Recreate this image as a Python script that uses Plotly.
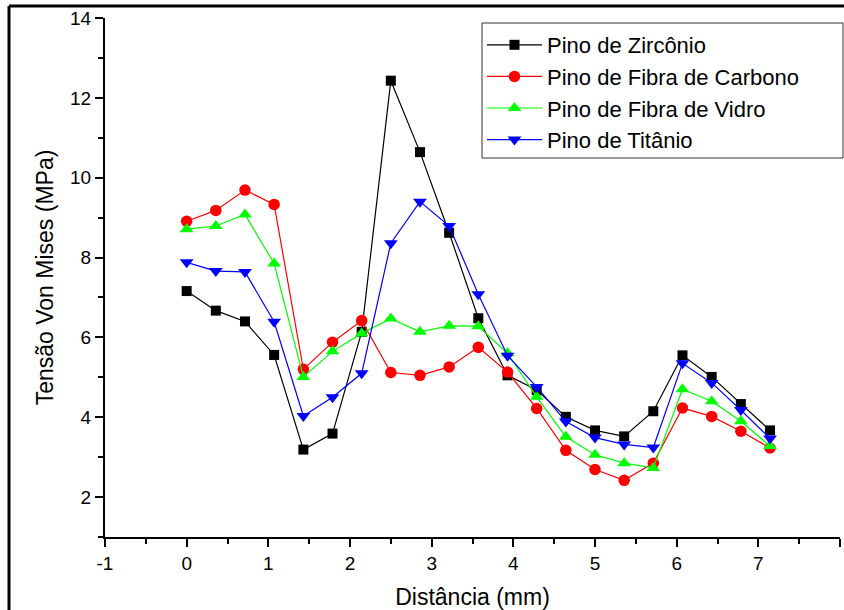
import plotly.graph_objects as go

distancia = [0, 0.357, 0.714, 1.071, 1.429, 1.786, 2.143, 2.5, 2.857, 3.214, 3.571,
             3.929, 4.286, 4.643, 5.0, 5.357, 5.714, 6.071, 6.429, 6.786, 7.143]

zirconio = [7.16, 6.67, 6.40, 5.56, 3.19, 3.59, 6.14, 12.43, 10.64, 8.62, 6.48,
            5.05, 4.68, 4.01, 3.67, 3.52, 4.15, 5.55, 5.01, 4.33, 3.67]
carbono = [8.91, 9.18, 9.69, 9.33, 5.20, 5.88, 6.42, 5.12, 5.05, 5.26, 5.75,
           5.13, 4.22, 3.17, 2.69, 2.42, 2.85, 4.23, 4.02, 3.65, 3.23]
vidro = [8.71, 8.79, 9.08, 7.85, 5.01, 5.65, 6.10, 6.47, 6.14, 6.29, 6.28,
         5.60, 4.51, 3.51, 3.06, 2.85, 2.73, 4.70, 4.40, 3.90, 3.28]
titanio = [7.88, 7.66, 7.64, 6.39, 4.03, 4.50, 5.10, 8.36, 9.40, 8.79, 7.08,
           5.54, 4.76, 3.89, 3.49, 3.32, 3.24, 5.35, 4.86, 4.18, 3.47]

x_tickvals = [-1, 0, 1, 2, 3, 4, 5, 6, 7, 8]
x_ticktext = ["-1", "0", "1", "2", "3", "4", "5", "6", "7", "8"]

series = [
    ("Pino de Zircônio", zirconio, "#000000", "square", 10),
    ("Pino de Fibra de Carbono", carbono, "#ff0000", "circle", 11.5),
    ("Pino de Fibra de Vidro", vidro, "#00ff00", "triangle-up", 12),
    ("Pino de Titânio", titanio, "#0000ff", "triangle-down", 12),
]

FONT = "Liberation Sans, Arial, sans-serif"

fig = go.Figure()
for name, vals, color, sym, size in series:
    fig.add_trace(go.Scatter(
        x=distancia, y=vals, name=name, mode="lines+markers",
        line=dict(color=color, width=1.2),
        marker=dict(symbol=sym, size=size, color=color),
    ))

W, H = 844, 610
ML, MR, MT, MB = 105, 4, 18, 73
pw, ph = W - ML - MR, H - MT - MB

def px(x):
    return (x - ML) / pw

def py(y):
    return 1 - (y - MT) / ph

fig.update_layout(
    width=W, height=H,
    margin=dict(l=ML, r=MR, t=MT, b=MB),
    paper_bgcolor="white", plot_bgcolor="white",
    font=dict(family=FONT, color="black"),
    showlegend=True,
    legend=dict(
        x=px(482), y=py(24), xanchor="left", yanchor="top",
        bgcolor="rgba(0,0,0,0)", borderwidth=0,
        font=dict(size=22, family=FONT), itemwidth=55,
        tracegroupgap=0,
    ),
    xaxis=dict(
        range=[-1, 8], tickmode="array", tickvals=x_tickvals, ticktext=x_ticktext,
        showgrid=False, zeroline=False,
        showline=True, linecolor="black", linewidth=2,
        ticks="outside", ticklen=8, tickwidth=2, tickcolor="black",
        tickfont=dict(size=19),
        minor=dict(ticks="outside", ticklen=5, tickwidth=2, tickcolor="black", dtick=0.5, tick0=0, showgrid=False),
        title=dict(text="Distância (mm)", font=dict(size=23), standoff=16),
    ),
    yaxis=dict(
        range=[1, 14], tick0=0, dtick=2, showgrid=False, zeroline=False,
        showline=True, linecolor="black", linewidth=2,
        ticks="outside", ticklen=8, tickwidth=2, tickcolor="black",
        tickfont=dict(size=19),
        minor=dict(ticks="outside", ticklen=5, tickwidth=2, tickcolor="black", dtick=1, showgrid=False),
        title=dict(text="Tensão Von Mises (MPa)", font=dict(size=23), standoff=10),
    ),
    shapes=[
        dict(type="rect", xref="paper", yref="paper", x0=px(482), x1=px(843), y0=py(23), y1=py(158),
             line=dict(color="#333333", width=1), fillcolor="white", layer="above"),
        dict(type="line", xref="paper", yref="paper", x0=px(9), x1=px(900), y0=py(6), y1=py(6),
             line=dict(color="black", width=3)),
        dict(type="line", xref="paper", yref="paper", x0=px(9), x1=px(9), y0=py(6), y1=py(700),
             line=dict(color="black", width=3)),
    ],
)

fig.write_html("out.html")
